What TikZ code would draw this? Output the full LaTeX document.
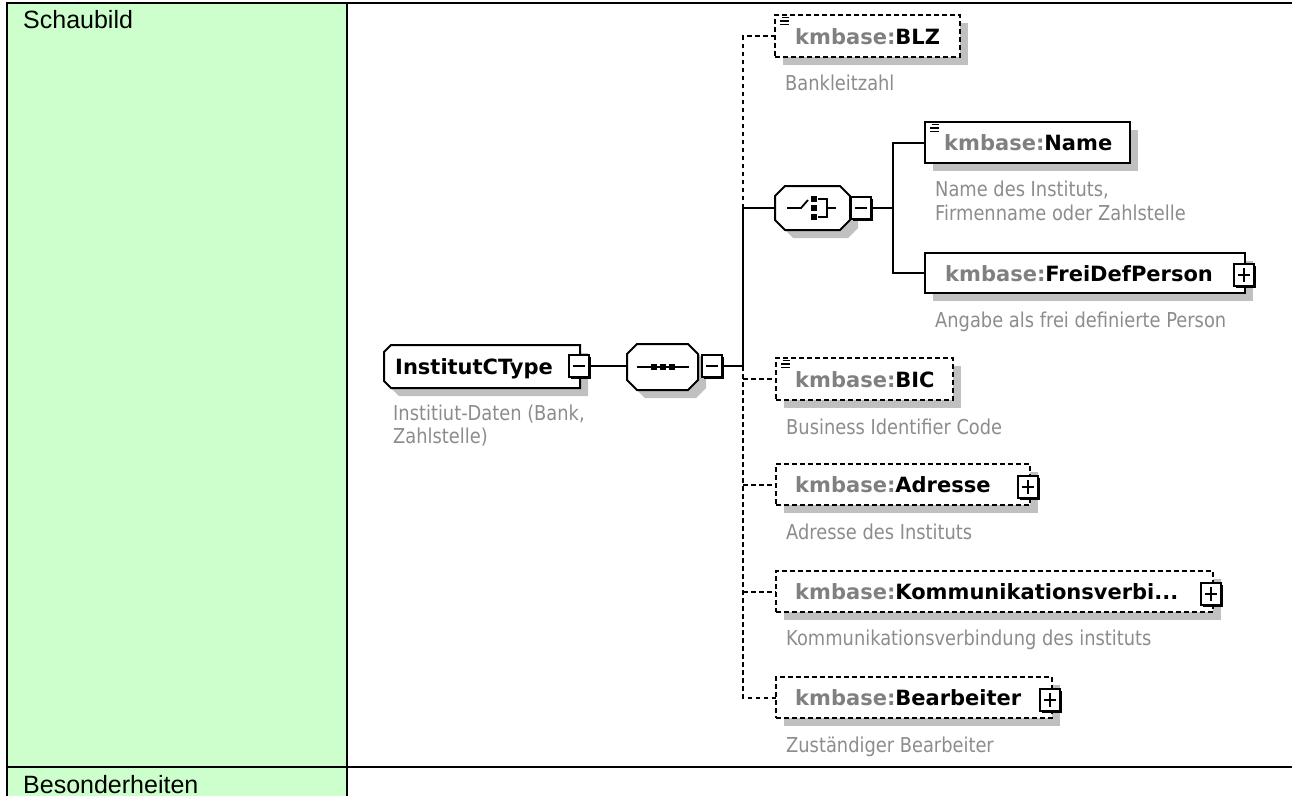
\documentclass[tikz,border=0pt]{standalone}
\usepackage{fontspec}
\setmainfont{Liberation Sans}
\newfontfamily\lblfont{DejaVu Sans}
\newfontfamily\descfont[FakeStretch=0.87]{DejaVu Sans}
\usetikzlibrary{shadows}
\definecolor{tablegreen}{RGB}{204,255,204}
\definecolor{shadowgrey}{RGB}{192,192,192}
\definecolor{prefixgrey}{RGB}{128,128,128}
\definecolor{descgrey}{RGB}{140,140,140}
\tikzset{
  tblline/.style={line width=1.5pt, draw=black},
  tbltext/.style={font=\fontsize{25}{30}\selectfont, anchor=base west, inner sep=0pt},
  holder/.style={inner sep=0pt, outer sep=0pt, anchor=north west},
  elembox/.style={draw, fill=white, line width=2pt, inner sep=0pt, outer sep=0pt, anchor=north west,
    general shadow={fill=shadowgrey, shadow xshift=8pt, shadow yshift=-8pt}},
  optbox/.style={elembox, dash pattern=on 5pt off 3pt},
  lbl/.style={font=\lblfont\bfseries\fontsize{21}{25}\selectfont, anchor=base west, inner sep=0pt},
  desc/.style={font=\descfont\fontsize{20.5}{24}\selectfont, text=descgrey, anchor=base west, inner sep=0pt},
  conn/.style={line width=2pt},
  optconn/.style={line width=2pt, dash pattern=on 4.5pt off 3.5pt},
  pmbox/.style={draw, fill=white, line width=2pt, minimum width=20pt, minimum height=22pt, inner sep=0pt, outer sep=0pt,
    general shadow={fill=black, shadow xshift=2pt, shadow yshift=-2pt}},
  minusbox/.style={pmbox, path picture={\draw[line width=1.8pt] ([xshift=4pt]path picture bounding box.west) -- ([xshift=-4pt]path picture bounding box.east);}},
  plusbox/.style={pmbox, path picture={\draw[line width=1.8pt] ([xshift=4pt]path picture bounding box.west) -- ([xshift=-4pt]path picture bounding box.east) ([yshift=-4pt]path picture bounding box.north) -- ([yshift=4pt]path picture bounding box.south);}},
  octpath/.style 2 args={insert path={([xshift=#2]#1.north west) -- ([xshift=-#2]#1.north east) -- ([yshift=-#2]#1.north east) -- ([yshift=#2]#1.south east) -- ([xshift=-#2]#1.south east) -- ([xshift=#2]#1.south west) -- ([yshift=#2]#1.south west) -- ([yshift=-#2]#1.north west) -- cycle}},
  rootpath/.style 2 args={insert path={([xshift=#2]#1.north west) -- (#1.north east) -- (#1.south east) -- ([xshift=#2]#1.south west) -- ([yshift=#2]#1.south west) -- ([yshift=-#2]#1.north west) -- cycle}},
  compshadow/.style={fill=shadowgrey, transform canvas={shift={(8pt,-8pt)}}},
  compline/.style={draw=black, fill=white, line width=2pt},
  iconline/.style={line width=1.8pt},
}
\newcommand\simpleicon[1]{%
  \draw[line width=1.6pt] ([xshift=7pt,yshift=-2.5pt]#1.north west) -- ([xshift=14pt,yshift=-2.5pt]#1.north west)
    ([xshift=5pt,yshift=-6pt]#1.north west) -- ([xshift=14pt,yshift=-6pt]#1.north west)
    ([xshift=5pt,yshift=-9.5pt]#1.north west) -- ([xshift=14pt,yshift=-9.5pt]#1.north west);}
\begin{document}
\begin{tikzpicture}[x=1pt,y=-1pt]
\useasboundingbox (0,0) rectangle (1292,796);
% table
\fill[tablegreen] (7,3) rectangle (347,796);
\draw[tblline] (7,796) -- (7,3) -- (1292,3);
\draw[tblline] (347,3) -- (347,796);
\draw[tblline] (7,767) -- (1292,767);
\node[tbltext] (schaubild) at (23,28) {Schaubild};
\node[tbltext] (besonderheiten) at (23,793) {Besonderheiten};

% root
\node[holder, minimum width=196pt, minimum height=43pt] (root) at (384,345) {};
\fill[compshadow, rootpath={root}{7pt}];
\draw[compline, rootpath={root}{7pt}];
\node[lbl] (rootlbl) at (395,374.5) {InstitutCType};
\node[minusbox] (rootminus) at (579,366) {};
\node[desc] (rootdesc1) at (393,420) {Institiut-Daten (Bank,};
\node[desc] (rootdesc2) at (393,443) {Zahlstelle)};

% sequence
\node[holder, minimum width=71pt, minimum height=46pt] (seq) at (627,344) {};
\fill[compshadow, octpath={seq}{10pt}];
\draw[compline, octpath={seq}{10pt}];
\draw[iconline] (637,367) -- (689,367);
\fill (650.5,364) rectangle (656.5,370);
\fill (659.5,364) rectangle (665.5,370);
\fill (668.5,364) rectangle (674.5,370);
\node[minusbox] (seqminus) at (712,366) {};

% choice
\node[holder, minimum width=75pt, minimum height=44pt] (choice) at (775,186) {};
\fill[compshadow, octpath={choice}{10pt}];
\draw[compline, octpath={choice}{10pt}];
\draw[iconline] (787,208) -- (801,208) -- (808,200);
\fill (810.5,196) rectangle (816.5,202);
\fill (810.5,205) rectangle (816.5,211);
\fill (810.5,214) rectangle (816.5,220);
\draw[iconline] (818,199) -- (827,199) -- (827,217) -- (818,217) (827,208) -- (836,208);
\node[minusbox] (choiceminus) at (861,208) {};

% elements
\node[optbox, minimum width=185pt, minimum height=42pt] (blz) at (775,15) {};
\simpleicon{blz}
\node[lbl] (blzlbl) at (795,44) {\textcolor{prefixgrey}{kmbase:}BLZ};
\node[desc] (blzdesc) at (785,90) {Bankleitzahl};

\node[elembox, minimum width=205pt, minimum height=41pt] (name) at (925,122) {};
\simpleicon{name}
\node[lbl] (namelbl) at (944,150.5) {\textcolor{prefixgrey}{kmbase:}Name};
\node[desc] (namedesc1) at (935,196) {Name des Instituts,};
\node[desc] (namedesc2) at (935,220) {Firmenname oder Zahlstelle};

\node[elembox, minimum width=320pt, minimum height=40pt] (frei) at (925,253) {};
\node[lbl] (freilbl) at (945,281) {\textcolor{prefixgrey}{kmbase:}FreiDefPerson};
\node[plusbox] (freiplus) at (1244,275) {};
\node[desc] (freidesc) at (935,327) {Angabe als frei definierte Person};

\node[optbox, minimum width=177pt, minimum height=42pt] (bic) at (776,358) {};
\simpleicon{bic}
\node[lbl] (biclbl) at (795,387) {\textcolor{prefixgrey}{kmbase:}BIC};
\node[desc] (bicdesc) at (786,434) {Business Identifier Code};

\node[optbox, minimum width=254pt, minimum height=41pt] (adr) at (776,464) {};
\node[lbl] (adrlbl) at (795,492.5) {\textcolor{prefixgrey}{kmbase:}Adresse};
\node[plusbox] (adrplus) at (1028,487) {};
\node[desc] (adrdesc) at (786,539) {Adresse des Instituts};

\node[optbox, minimum width=437pt, minimum height=41pt] (komm) at (776,571) {};
\node[lbl] (kommlbl) at (795,599.5) {\textcolor{prefixgrey}{kmbase:}Kommunikationsverbi...};
\node[plusbox] (kommplus) at (1211,594) {};
\node[desc] (kommdesc) at (786,645) {Kommunikationsverbindung des instituts};

\node[optbox, minimum width=276pt, minimum height=41pt] (bearb) at (776,677) {};
\node[lbl] (bearblbl) at (795,705.5) {\textcolor{prefixgrey}{kmbase:}Bearbeiter};
\node[plusbox] (bearbplus) at (1050,700) {};
\node[desc] (bearbdesc) at (786,752) {Zuständiger Bearbeiter};

% connectors
\coordinate (trunk) at (743,0);
\coordinate (ctrunk) at (893,0);
\draw[conn] (rootminus.east) -- (seq.west |- rootminus.east);
\draw[conn] (seqminus.east) -- (seqminus.east -| trunk) -- (choice.west -| trunk) -- (choice.west);
\draw[optconn] (choice.west -| trunk) -- (blz.west -| trunk) -- (blz.west);
\draw[optconn] (seqminus.east -| trunk) -- (bearb.west -| trunk) -- (bearb.west);
\draw[optconn] (bic.west -| trunk) -- (bic.west);
\draw[optconn] (adr.west -| trunk) -- (adr.west);
\draw[optconn] (komm.west -| trunk) -- (komm.west);
\draw[conn] (choiceminus.east) -- (choiceminus.east -| ctrunk);
\draw[conn] (name.west) -- (name.west -| ctrunk) -- (frei.west -| ctrunk) -- (frei.west);
\end{tikzpicture}
\end{document}
